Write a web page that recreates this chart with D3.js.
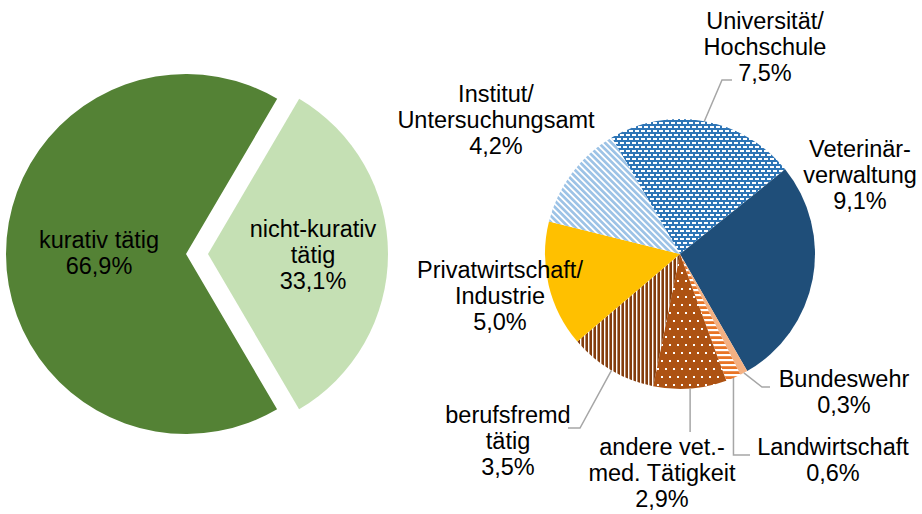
<!DOCTYPE html>
<html lang="de">
<head>
<meta charset="utf-8">
<title>Tätigkeitsbereiche</title>
<script src="https://d3js.org/d3.v7.min.js"></script>
<style>
  body { margin: 0; background: #fff; }
  .lbl { font-family: "Liberation Sans", Arial, sans-serif; font-size: 23.5px; fill: #000; }
  .leader { fill: none; stroke: #a6a6a6; stroke-width: 1.5; }
</style>
</head>
<body>
<div id="chart"></div>
<script>
// left pie
const mainCategories = ["kurativ tätig", "nicht-kurativ\ntätig"];
const mainValues = [66.9, 33.1];

// right pie (breakdown of nicht-kurativ)
const subCategories = [
  "Universität/\nHochschule",
  "Veterinär-\nverwaltung",
  "Bundeswehr",
  "Landwirtschaft",
  "andere vet.-\nmed. Tätigkeit",
  "berufsfremd\ntätig",
  "Privatwirtschaft/\nIndustrie",
  "Institut/\nUntersuchungsamt"
];
const subValues = [7.5, 9.1, 0.3, 0.6, 2.9, 3.5, 5.0, 4.2];

const width = 922, height = 514;
const lineH = 26;
const rad = d => d * Math.PI / 180;
const fmt = v => d3.format(".1f")(v).replace(".", ",") + "%";

const svg = d3.select("#chart").append("svg")
  .attr("width", width).attr("height", height);

// fill patterns
const defs = svg.append("defs");

// blue with white dashes
const pUni = defs.append("pattern").attr("id", "pUni")
  .attr("patternUnits", "userSpaceOnUse").attr("width", 6).attr("height", 8);
pUni.append("rect").attr("width", 6).attr("height", 8).attr("fill", "#2e75b6");
pUni.append("rect").attr("x", 0).attr("y", 0).attr("width", 4).attr("height", 2).attr("fill", "#fff");
pUni.append("rect").attr("x", 3).attr("y", 4).attr("width", 4).attr("height", 2).attr("fill", "#fff");
pUni.append("rect").attr("x", -3).attr("y", 4).attr("width", 4).attr("height", 2).attr("fill", "#fff");

// light blue diagonal stripes
const pInst = defs.append("pattern").attr("id", "pInst")
  .attr("patternUnits", "userSpaceOnUse").attr("width", 4.5).attr("height", 4.5)
  .attr("patternTransform", "rotate(-45)");
pInst.append("rect").attr("width", 4.5).attr("height", 4.5).attr("fill", "#9dc3e6");
pInst.append("rect").attr("width", 1.8).attr("height", 4.5).attr("fill", "#fff");

// orange horizontal stripes
const pLand = defs.append("pattern").attr("id", "pLand")
  .attr("patternUnits", "userSpaceOnUse").attr("width", 5).attr("height", 5);
pLand.append("rect").attr("width", 5).attr("height", 5).attr("fill", "#e97425");
pLand.append("rect").attr("y", 0).attr("width", 5).attr("height", 2.2).attr("fill", "#fff");

// brown with white dots
const pAnd = defs.append("pattern").attr("id", "pAnd")
  .attr("patternUnits", "userSpaceOnUse").attr("width", 8).attr("height", 16);
pAnd.append("rect").attr("width", 8).attr("height", 16).attr("fill", "#ad5213");
pAnd.append("rect").attr("x", 1).attr("y", 2).attr("width", 2).attr("height", 2).attr("fill", "#fff");
pAnd.append("rect").attr("x", 5).attr("y", 10).attr("width", 2).attr("height", 2).attr("fill", "#fff");

// dark brown vertical stripes
const pBer = defs.append("pattern").attr("id", "pBer")
  .attr("patternUnits", "userSpaceOnUse").attr("width", 4).attr("height", 4);
pBer.append("rect").attr("width", 4).attr("height", 4).attr("fill", "#843c0c");
pBer.append("rect").attr("x", 0).attr("width", 1.4).attr("height", 4).attr("fill", "#fff");

const mainFills = ["#548235", "#c5e0b4"];
const subFills = ["url(#pUni)", "#1f4e79", "#f4b183", "url(#pLand)", "url(#pAnd)", "url(#pBer)", "#ffc000", "url(#pInst)"];

function addLines(g, txt, x, y0) {
  const t = g.append("text").attr("class", "lbl").attr("text-anchor", "middle");
  txt.forEach((s, i) => {
    t.append("tspan").attr("x", x).attr("y", y0 + i * lineH).text(s);
  });
}

// ---- left pie ----
const cx1 = 186, cy1 = 254, r1 = 180, explode = 22;
const pie1 = d3.pie().sort(null)
  .startAngle(rad(149.6)).endAngle(rad(149.6 + 360));
const arc1 = d3.arc().innerRadius(0).outerRadius(r1);
const left = svg.append("g").attr("transform", `translate(${cx1},${cy1})`);

left.selectAll("path")
  .data(pie1(mainValues))
  .join("path")
  .attr("d", arc1)
  .attr("fill", (d, i) => mainFills[i])
  .attr("transform", (d, i) => {
    if (i === 0) return null;
    const m = (d.startAngle + d.endAngle) / 2;
    return `translate(${explode * Math.sin(m)},${-explode * Math.cos(m)})`;
  });

const mainLabelPos = [[99, 248], [313, 237]];
mainCategories.forEach((c, i) => {
  addLines(svg, c.split("\n").concat(fmt(mainValues[i])), mainLabelPos[i][0], mainLabelPos[i][1]);
});

// ---- right pie ----
const cx2 = 680, cy2 = 254, r2 = 135;
const pie2 = d3.pie().sort(null)
  .startAngle(rad(-30.4)).endAngle(rad(-30.4 + 360));
const arc2 = d3.arc().innerRadius(0).outerRadius(r2);
const edge = d3.arc().innerRadius(r2).outerRadius(r2);
const right = svg.append("g").attr("transform", `translate(${cx2},${cy2})`);
const subArcs = pie2(subValues);

right.selectAll("path")
  .data(subArcs)
  .join("path")
  .attr("d", arc2)
  .attr("fill", (d, i) => subFills[i]);

// label anchors: [centre x, first baseline]
const subLabelPos = [
  [765, 29], [860, 157], [844, 387], [833, 455],
  [662, 455], [508, 423], [500, 278], [496, 102]
];
// leader line bends (absolute), null = no leader
const leaderBends = [
  [[722, 80], [732, 80]],
  null,
  [[762, 387], [770, 387]],
  [["sx", 455], [750, 455]],
  [["sx", 432]],
  [[580, 428], [568, 428]],
  null,
  null
];

subArcs.forEach((d, i) => {
  const bends = leaderBends[i];
  if (bends) {
    const c = edge.centroid(d);
    const sx = cx2 + c[0], sy = cy2 + c[1];
    const pts = [[sx, sy]].concat(bends.map(p => [p[0] === "sx" ? sx : p[0], p[1]]));
    svg.append("path").attr("class", "leader").attr("d", d3.line()(pts));
  }
  addLines(svg, subCategories[i].split("\n").concat(fmt(subValues[i])), subLabelPos[i][0], subLabelPos[i][1]);
});
</script>
</body>
</html>
